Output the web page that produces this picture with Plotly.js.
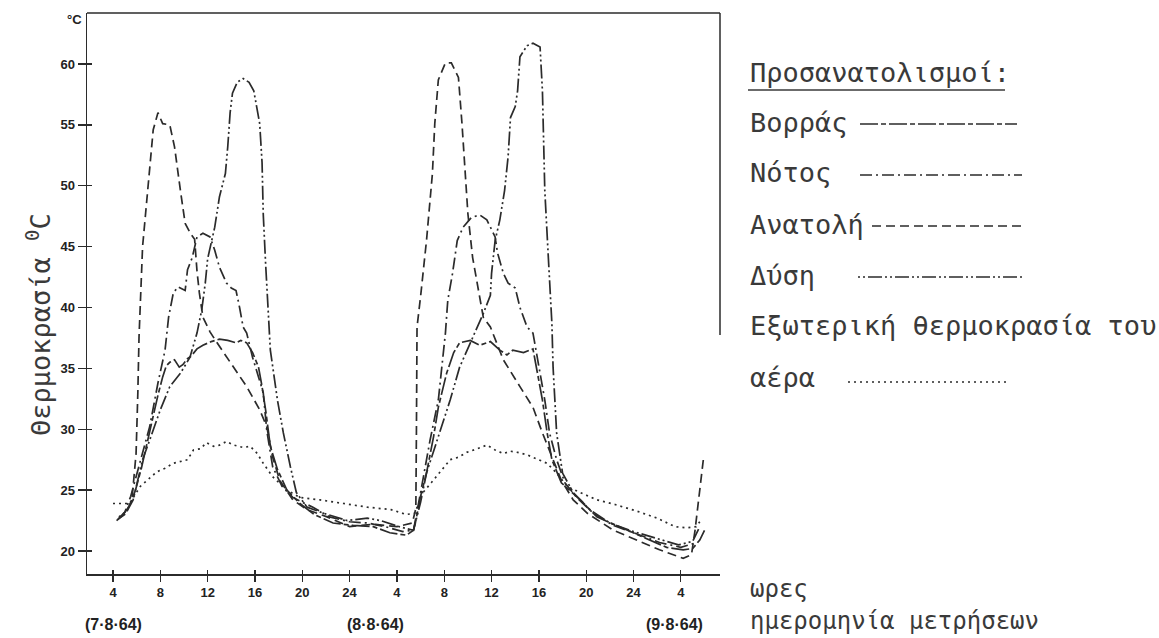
<!DOCTYPE html>
<html><head><meta charset="utf-8">
<script src="https://cdn.plot.ly/plotly-3.0.1.min.js"></script>
<style>html,body{margin:0;padding:0;background:#fff}</style>
</head><body><div id="chart" style="width:1159px;height:638px"></div>
<script>
// ---- data (hours counted from 0:00 of 7.8.64) ----
const tickHours = [4, 8, 12, 16, 20, 24, 28, 32, 36, 40, 44, 48, 52];
const tickLabels = ["4", "8", "12", "16", "20", "24", "4", "8", "12", "16", "20", "24", "4"];
const yTicks = [20, 25, 30, 35, 40, 45, 50, 55, 60];
const dateLabels = ["(7·8·64)", "(8·8·64)", "(9·8·64)"];
const dateHours = [4.0, 26.2, 51.5];

const northH = [4.3,4.8,5.4,5.9,6.4,6.9,7.3,7.8,8.2,8.5,8.8,9.2,9.6,9.9,10.3,10.6,11.1,11.6,12.3,13.0,13.7,14.4,14.8,15.3,15.8,16.3,16.6,16.9,17.3,17.9,18.7,19.8,21.0,22.6,24.3,26.0,27.4,28.8,29.4,29.6,30.0,30.5,31.1,31.5,32.2,32.8,33.3,34.2,35.0,35.9,36.7,37.3,37.8,38.7,39.5,39.8,40.3,40.7,41.1,41.9,43.5,44.9,46.3,47.4,48.8,50.8,52.2,53.0,53.6,54.0];
const northT = [22.5,22.9,23.7,25.0,26.8,29.0,30.8,32.8,34.3,35.2,35.5,35.7,35.1,35.3,35.8,36.0,36.6,36.9,37.2,37.4,37.3,37.1,37.3,37.1,36.3,35.1,33.5,31.6,28.6,26.7,25.0,23.9,23.0,22.3,22.1,22.0,21.5,21.3,21.7,22.5,24.5,26.4,29.4,31.8,34.6,36.3,37.1,37.3,36.9,37.2,36.5,36.1,36.5,36.3,36.6,35.1,32.4,29.7,27.5,25.6,24.2,22.8,22.2,21.7,21.1,20.3,20.1,20.2,20.9,21.7];

const southH = [4.5,5.0,5.5,6.0,6.5,7.1,7.8,8.4,8.7,9.1,9.5,10.1,10.3,10.7,11.1,11.6,12.2,12.6,13.0,13.6,14.0,14.4,14.7,15.0,15.3,15.8,16.3,16.7,17.0,17.5,18.3,19.2,20.0,20.9,22.3,24.0,25.5,27.0,28.5,29.4,30.0,30.8,31.5,31.8,32.1,32.3,32.7,33.1,33.6,34.3,35.0,35.6,36.3,36.5,37.0,37.4,38.0,38.4,39.0,39.5,40.1,40.5,40.9,41.5,42.2,43.2,44.6,46.3,48.0,50.2,52.0,53.4];
const southT = [22.7,23.2,24.5,26.3,28.0,30.2,33.8,36.5,39.2,41.2,41.7,41.4,43.1,44.1,45.8,46.1,45.8,44.7,43.3,42.0,41.6,41.4,40.0,38.4,37.9,35.9,34.3,33.0,29.9,26.9,25.3,24.4,24.0,23.6,22.8,22.4,22.3,22.0,21.6,21.7,24.8,29.1,32.4,34.9,37.9,40.6,42.8,45.5,46.6,47.4,47.6,47.2,45.8,44.5,42.8,42.0,41.6,40.0,38.4,37.9,34.6,32.4,29.7,27.5,25.6,24.4,23.1,22.1,21.5,20.7,20.3,20.7];

const eastH = [4.4,5.0,5.6,5.95,6.1,6.2,6.5,7.0,7.4,7.8,8.2,8.8,9.2,9.7,10.1,10.6,10.9,11.1,11.3,11.6,12.2,12.8,13.5,14.2,15.3,16.4,17.0,17.5,18.1,19.2,20.4,22.1,24.0,26.0,28.0,29.3,29.6,29.65,29.7,30.0,30.5,31.0,31.2,31.5,32.1,32.6,33.2,33.5,33.8,34.0,34.4,34.9,35.3,35.9,37.0,38.4,39.5,40.3,41.2,41.9,42.9,44.1,46.3,48.3,50.2,52.2,52.9,53.2,53.5,53.9];
const eastT = [22.6,23.0,24.2,28.0,33.0,37.6,45.0,50.5,54.6,56.0,55.1,55.0,53.2,49.6,46.9,46.0,45.6,43.0,41.2,39.2,38.0,37.1,36.1,35.1,33.5,31.6,30.2,27.7,25.8,24.2,23.4,22.8,22.0,22.2,22.0,22.3,23.5,30.0,38.4,40.9,45.5,51.0,55.1,58.7,60.1,60.1,58.9,55.1,51.0,47.7,44.1,41.4,39.2,38.4,35.7,33.5,31.8,29.7,27.5,25.8,24.2,23.1,21.7,20.9,20.1,19.4,19.7,21.7,24.4,27.5];

const westH = [4.5,5.2,5.7,6.5,7.1,8.0,8.8,9.7,10.5,11.1,11.5,11.8,12.0,12.6,13.0,13.5,13.7,13.9,14.1,14.5,15.0,15.5,15.9,16.4,16.6,16.7,16.9,17.1,17.3,17.9,18.4,19.0,19.5,20.4,21.8,23.8,25.5,26.6,28.2,29.4,30.0,30.5,31.4,32.5,33.3,34.3,35.3,35.9,36.0,36.3,36.7,37.1,37.4,37.6,38.0,38.2,38.4,39.0,39.5,40.1,40.3,40.4,40.5,40.8,41.1,41.2,41.5,42.0,42.9,44.3,46.0,48.0,50.0,51.8,53.0,53.5];
const westT = [22.8,23.3,24.2,27.5,29.1,31.6,33.5,34.6,35.9,37.9,39.8,42.0,44.0,46.6,49.1,51.0,53.2,56.0,57.6,58.5,58.8,58.5,57.8,55.1,51.9,47.7,43.6,39.5,36.5,32.4,29.7,26.9,24.8,23.6,23.1,22.5,22.7,22.5,22.0,21.7,24.0,26.4,29.1,32.4,35.1,37.3,39.5,41.0,42.8,45.5,47.2,49.6,52.4,55.6,56.5,57.8,60.6,61.5,61.7,61.4,57.8,53.7,49.6,44.1,38.7,35.1,29.7,26.4,24.8,23.4,22.3,21.6,21.0,20.5,20.8,21.8];

const airH = [4.0,5.4,6.3,7.0,7.7,8.4,9.1,10.3,10.8,11.4,11.9,12.5,13.0,13.6,14.2,15.0,15.6,16.2,16.7,17.5,18.7,19.8,21.5,23.5,25.5,27.5,28.8,29.5,30.2,30.9,31.6,32.5,33.2,33.9,34.8,35.6,36.3,37.0,37.6,38.2,39.0,39.5,40.7,41.5,42.4,43.5,44.9,46.5,48.2,50.0,51.5,52.5,53.3,53.6];
const airT = [23.9,23.9,25.3,25.9,26.5,26.8,27.2,27.5,28.3,28.4,28.9,28.6,28.7,29.0,28.7,28.5,28.6,28.0,27.2,26.1,25.0,24.4,24.2,23.9,23.6,23.4,23.0,23.1,24.8,25.6,26.4,27.5,27.7,28.1,28.4,28.7,28.3,28.0,28.2,28.1,27.9,27.7,27.2,26.4,25.3,24.8,24.2,23.8,23.3,22.7,22.0,21.9,22.0,22.4];

const seriesNames = ["Βορράς", "Νότος", "Ανατολή", "Δύση", "Εξωτερική θερμοκρασία του αέρα"];

// ---- styling ----
const INK = '#2b2b2b';
const TXT = '#3a3a3a';
const dashes = {
  north: '18px,3px,5px,3px',
  south: '12px,4px,2px,4px',
  east: '9px,5px',
  west: '2px,3px,2px,3px,14px,3px',
  air: '2px,4px'
};
const PL = 87, PR = 720, PT = 13, PB = 574;
const fx = px => (px - PL) / (PR - PL);
const fy = py => (PB - py) / (PB - PT);

function tr(x, y, dash, name) {
  return {x: x, y: y, name: name, type: 'scatter', mode: 'lines', showlegend: false,
          hoverinfo: 'skip', line: {color: INK, width: 1.7, dash: dash}};
}
const traces = [
  tr(northH, northT, dashes.north, seriesNames[0]),
  tr(southH, southT, dashes.south, seriesNames[1]),
  tr(eastH, eastT, dashes.east, seriesNames[2]),
  tr(westH, westT, dashes.west, seriesNames[3]),
  tr(airH, airT, dashes.air, seriesNames[4])
];

const LF = {family: 'DejaVu Sans Mono', size: 27, color: TXT};
const dy = 4;
const legendRows = [
  {text: seriesNames[0], py: 118 + dy, x0: 860, x1: 1017, dash: dashes.north},
  {text: seriesNames[1], py: 169 + dy, x0: 860, x1: 1022, dash: dashes.south},
  {text: seriesNames[2], py: 220 + dy, x0: 872, x1: 1022, dash: dashes.east},
  {text: seriesNames[3], py: 271 + dy, x0: 858, x1: 1023, dash: dashes.west}
];

const annotations = [];
const shapes = [];
function ann(text, px, py, font, extra) {
  annotations.push(Object.assign({text: text, xref: 'paper', yref: 'paper', x: fx(px), y: fy(py),
    xanchor: 'left', yanchor: 'middle', showarrow: false, font: font}, extra || {}));
}
ann('Προσανατολισμοί:', 748, 68 + dy, LF);
shapes.push({type: 'line', xref: 'paper', yref: 'paper', x0: fx(748), x1: fx(1005), y0: fy(86 + dy), y1: fy(86 + dy),
             line: {color: TXT, width: 1.3}});
legendRows.forEach(r => {
  ann(r.text, 748, r.py, LF);
  shapes.push({type: 'line', xref: 'paper', yref: 'paper', x0: fx(r.x0), x1: fx(r.x1), y0: fy(r.py + 2), y1: fy(r.py + 2),
               line: {color: INK, width: 1.6, dash: r.dash}});
});
ann('Εξωτερική θερμοκρασία του', 748, 322 + dy, LF);
ann('αέρα', 748, 373 + dy, LF);
shapes.push({type: 'line', xref: 'paper', yref: 'paper', x0: fx(848), x1: fx(1010), y0: fy(378 + dy), y1: fy(378 + dy),
             line: {color: INK, width: 1.6, dash: dashes.air}});
const BF = {family: 'DejaVu Sans Mono', size: 24, color: TXT};
ann('ωρες', 748, 589, BF);
ann('ημερομηνία μετρήσεων', 748, 621, BF);
// y title
ann('Θερμοκρασία <sup>0</sup>C', 38, 325, LF, {xanchor: 'center', textangle: -90});
// °C unit at top of y axis
ann('°C', 74, 19, {family: 'Liberation Sans', size: 13, color: '#222', weight: 'bold'}, {xanchor: 'center'});
// dates under x axis
dateLabels.forEach((d, i) => {
  annotations.push({text: d, xref: 'x', yref: 'paper', x: dateHours[i], y: fy(624), xanchor: 'center', yanchor: 'middle',
                    showarrow: false, font: {family: 'Liberation Sans', size: 16, color: '#222', weight: 'bold'}});
});
// frame: top line and right edge (partial, as in the original)
shapes.push({type: 'line', xref: 'paper', yref: 'paper', x0: 0, x1: 1, y0: 1, y1: 1, line: {color: INK, width: 1.5}});
shapes.push({type: 'line', xref: 'paper', yref: 'paper', x0: 1, x1: 1, y0: 1, y1: fy(335), line: {color: INK, width: 1.5}});

const xr = [4 + (PL - 113) / 11.83, 4 + (PR - 113) / 11.83];
const yr = [20 - (PB - 551) / 12.175, 60 + (64 - PT) / 12.175];
const tickFont = {family: 'Liberation Sans', size: 13, color: '#222', weight: 'bold'};

const layout = {
  width: 1159, height: 638,
  margin: {l: PL, r: 1159 - PR, t: PT, b: 638 - PB},
  paper_bgcolor: '#fff', plot_bgcolor: '#fff',
  showlegend: false,
  xaxis: {range: xr, tickmode: 'array', tickvals: tickHours, ticktext: tickLabels, ticks: 'outside', ticklen: 6,
          tickwidth: 1.3, tickcolor: INK, showline: true, linecolor: INK, linewidth: 1.5, showgrid: false,
          zeroline: false, tickfont: tickFont, fixedrange: true},
  yaxis: {range: yr, tickmode: 'array', tickvals: yTicks, ticks: 'outside', ticklen: 8, tickwidth: 1.3,
          tickcolor: INK, showline: true, linecolor: INK, linewidth: 1.5, showgrid: false, zeroline: false,
          tickfont: tickFont, fixedrange: true},
  xaxis2: {overlaying: 'x', range: xr, tickmode: 'array', tickvals: tickHours, ticks: 'inside', ticklen: 4,
           tickwidth: 1.3, tickcolor: INK, showticklabels: false, showgrid: false, zeroline: false, showline: false},
  yaxis2: {overlaying: 'y', range: yr, tickmode: 'array', tickvals: yTicks, ticks: 'inside', ticklen: 5,
           tickwidth: 1.3, tickcolor: INK, showticklabels: false, showgrid: false, zeroline: false, showline: false},
  annotations: annotations,
  shapes: shapes
};
// invisible helper trace so the overlay axes draw their inside tick marks
traces.push({x: [xr[0]], y: [yr[0]], xaxis: 'x2', yaxis: 'y2', mode: 'markers', marker: {opacity: 0},
             showlegend: false, hoverinfo: 'skip', type: 'scatter'});

Plotly.newPlot('chart', traces, layout, {staticPlot: true, displayModeBar: false});
</script></body></html>
